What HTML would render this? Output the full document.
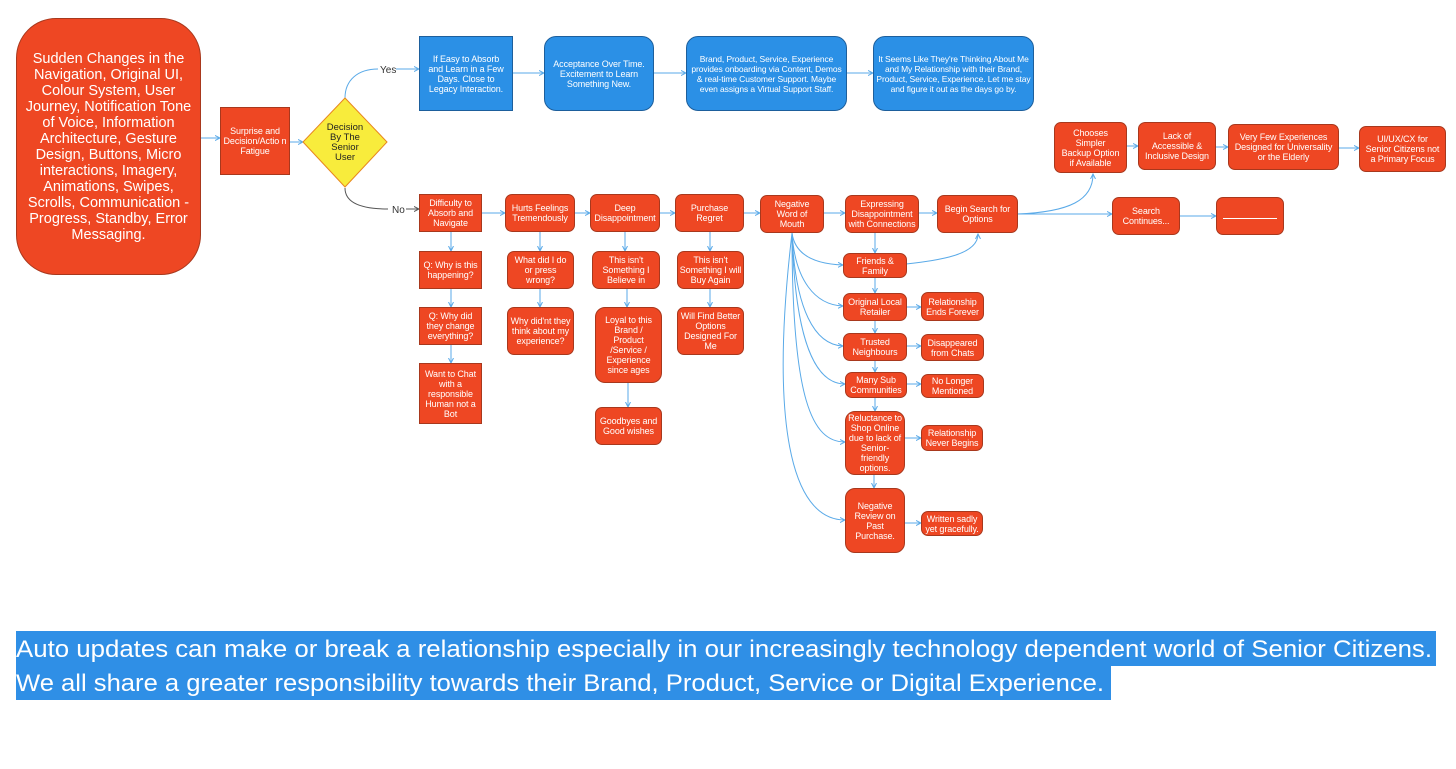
<!DOCTYPE html>
<html><head><meta charset="utf-8"><style>
body{margin:0;width:1456px;height:769px;background:#fff;position:relative;overflow:hidden;font-family:"Liberation Sans",Arial,sans-serif}
.b{position:absolute;display:flex;align-items:center;justify-content:center;text-align:center;color:#fff;background:#ee4723;border:1px solid #a8381d;box-sizing:border-box;font-size:9px;line-height:10px;letter-spacing:-0.1px;border-radius:7px;padding:0 3px}
.s{border-radius:0}
.bl{background:#2b90e6;border-color:#1d5f9c}
svg{position:absolute;left:0;top:0}
</style></head><body>
<svg width="1456" height="769">
<defs><marker id="a" markerWidth="6" markerHeight="6" refX="5" refY="3" orient="auto"><path d="M0,0.5 L5,3 L0,5.5" fill="none" stroke="#5aaae8" stroke-width="1"/></marker>
<marker id="g" markerWidth="6" markerHeight="6" refX="5" refY="3" orient="auto"><path d="M0,0.5 L5,3 L0,5.5" fill="none" stroke="#555" stroke-width="1"/></marker></defs>
<g fill="none" stroke="#5aaae8" stroke-width="1" marker-end="url(#a)">
<path d="M201,138 H220"/><path d="M289,142 H303"/>
<path d="M396,69 H419"/>
<path d="M512,73 H544"/><path d="M654,73 H686"/><path d="M846,73 H873"/>
<path d="M481,213 H505"/><path d="M574,213 H590"/><path d="M659,213 H675"/><path d="M743,213 H760"/><path d="M823,213 H845"/><path d="M918,213 H937"/>
<path d="M1017,214 H1112"/><path d="M1017,214 C1070,212 1093,200 1093,174"/>
<path d="M1179,216 H1216"/>
<path d="M1126,146 H1138"/><path d="M1215,147 H1228"/><path d="M1338,148 H1359"/>
<path d="M451,232 V251"/><path d="M451,288 V307"/><path d="M451,344 V363"/>
<path d="M540,232 V251"/><path d="M540,288 V307"/>
<path d="M625,232 V251"/><path d="M627,288 V307"/><path d="M628,382 V407"/>
<path d="M710,232 V251"/><path d="M710,288 V307"/>
<path d="M875,233 V253"/><path d="M875,277 V293"/><path d="M875,320 V333"/><path d="M875,360 V372"/><path d="M875,397 V411"/><path d="M874,474 V488"/>
<path d="M792,233 C795,255 815,264 843,265"/>
<path d="M792,233 C795,280 815,305 843,306"/>
<path d="M792,233 C795,310 815,345 843,346"/>
<path d="M792,233 C795,340 815,384 845,384"/>
<path d="M792,233 C792,400 812,442 845,442"/>
<path d="M792,233 C770,420 790,520 845,520"/>
<path d="M906,264 C940,260 978,255 978,234"/>
<path d="M906,307 H921"/><path d="M906,346 H921"/><path d="M906,384 H921"/><path d="M904,438 H921"/><path d="M904,523 H921"/>
<path d="M345,98 C345,80 358,69 378,69" marker-end="none"/>
</g>
<path d="M345,188 C345,202 360,209 388,209" fill="none" stroke="#555"/>
<path d="M406,209 H419" fill="none" stroke="#555" marker-end="url(#g)"/>
<text x="380" y="73" font-size="10" fill="#333" font-family="Liberation Sans">Yes</text>
<text x="392" y="213" font-size="10" fill="#333" font-family="Liberation Sans">No</text>
<polygon points="345,98 387,142 345,187 303,142" fill="#f8ec3c" stroke="#e8861e"/>
<text font-size="9.5" fill="#222" text-anchor="middle" font-family="Liberation Sans"><tspan x="345" y="130">Decision</tspan><tspan x="345" y="140">By The</tspan><tspan x="345" y="150">Senior</tspan><tspan x="345" y="160">User</tspan></text>
<rect x="16" y="631" width="1420" height="35" fill="#2f8fe6"/>
<rect x="16" y="666" width="1095" height="34" fill="#2f8fe6"/>
<text x="16" y="657" font-size="24" fill="#fff" textLength="1416" lengthAdjust="spacingAndGlyphs" font-family="Liberation Sans">Auto updates can make or break a relationship especially in our increasingly technology dependent world of Senior Citizens.</text>
<text x="16" y="691" font-size="24" fill="#fff" textLength="1088" lengthAdjust="spacingAndGlyphs" font-family="Liberation Sans">We all share a greater responsibility towards their Brand, Product, Service or Digital Experience.</text>
</svg>
<div class="b" style="left:16px;top:18px;width:185px;height:257px;border-radius:40px;font-size:14.5px;line-height:16px;letter-spacing:0;padding:0 6px">Sudden Changes in the Navigation, Original UI, Colour System, User Journey, Notification Tone of Voice, Information Architecture, Gesture Design, Buttons, Micro interactions, Imagery, Animations, Swipes, Scrolls, Communication - Progress, Standby, Error Messaging.</div>
<div class="b s" style="left:220px;top:107px;width:70px;height:68px;padding:0 1px">Surprise and Decision/Actio n Fatigue</div>
<div class="b s bl" style="left:419px;top:36px;width:94px;height:75px;padding:0 5px">If Easy to Absorb and Learn in a Few Days. Close to Legacy Interaction.</div>
<div class="b bl" style="left:544px;top:36px;width:110px;height:75px;border-radius:12px;padding:0 6px">Acceptance Over Time. Excitement to Learn Something New.</div>
<div class="b bl" style="left:686px;top:36px;width:161px;height:75px;border-radius:12px;font-size:8.5px;padding:0 2px">Brand, Product, Service, Experience provides onboarding via Content, Demos &amp; real-time Customer Support. Maybe even assigns a Virtual Support Staff.</div>
<div class="b bl" style="left:873px;top:36px;width:161px;height:75px;border-radius:12px;font-size:8.5px;padding:0 2px">It Seems Like They're Thinking About Me and My Relationship with their Brand, Product, Service, Experience. Let me stay and figure it out as the days go by.</div>
<div class="b" style="left:1054px;top:122px;width:73px;height:51px;padding:0 5px">Chooses Simpler Backup Option if Available</div>
<div class="b" style="left:1138px;top:122px;width:78px;height:48px;padding:0 5px">Lack of Accessible &amp; Inclusive Design</div>
<div class="b" style="left:1228px;top:124px;width:111px;height:46px;padding:0 4px">Very Few Experiences Designed for Universality or the Elderly</div>
<div class="b" style="left:1359px;top:126px;width:87px;height:46px;padding:0 4px">UI/UX/CX for Senior Citizens not a Primary Focus</div>
<div class="b" style="left:1112px;top:197px;width:68px;height:38px">Search Continues...</div>
<div class="b" style="left:1216px;top:197px;width:68px;height:38px"><div style="width:54px;border-top:1px solid #fff;margin-top:4px"></div></div>
<div class="b s" style="left:419px;top:194px;width:63px;height:38px">Difficulty to Absorb and Navigate</div>
<div class="b" style="left:505px;top:194px;width:70px;height:38px;padding:0 1px">Hurts Feelings Tremendously</div>
<div class="b" style="left:590px;top:194px;width:70px;height:38px;padding:0">Deep Disappointment</div>
<div class="b" style="left:675px;top:194px;width:69px;height:38px;padding:0 10px">Purchase Regret</div>
<div class="b" style="left:760px;top:195px;width:64px;height:38px">Negative Word of Mouth</div>
<div class="b" style="left:845px;top:195px;width:74px;height:38px;padding:0 1px">Expressing Disappointment with Connections</div>
<div class="b" style="left:937px;top:195px;width:81px;height:38px">Begin Search for Options</div>
<div class="b s" style="left:419px;top:251px;width:63px;height:38px">Q: Why is this happening?</div>
<div class="b s" style="left:419px;top:307px;width:63px;height:38px">Q: Why did they change everything?</div>
<div class="b s" style="left:419px;top:363px;width:63px;height:61px">Want to Chat with a responsible Human not a Bot</div>
<div class="b" style="left:507px;top:251px;width:67px;height:38px;padding:0 5px">What did I do or press wrong?</div>
<div class="b" style="left:507px;top:307px;width:67px;height:48px;padding:0 1px">Why did'nt they think about my experience?</div>
<div class="b" style="left:592px;top:251px;width:68px;height:38px">This isn't Something I Believe in</div>
<div class="b" style="left:595px;top:307px;width:67px;height:76px;border-radius:10px;padding:0 8px">Loyal to this Brand / Product /Service / Experience since ages</div>
<div class="b" style="left:595px;top:407px;width:67px;height:38px">Goodbyes and Good wishes</div>
<div class="b" style="left:677px;top:251px;width:67px;height:38px;padding:0 1px">This isn't Something I will Buy Again</div>
<div class="b" style="left:677px;top:307px;width:67px;height:48px;padding:0 1px">Will Find Better Options Designed For Me</div>
<div class="b" style="left:843px;top:253px;width:64px;height:25px;padding:0 10px">Friends &amp; Family</div>
<div class="b" style="left:843px;top:293px;width:64px;height:28px">Original Local Retailer</div>
<div class="b" style="left:843px;top:333px;width:64px;height:28px">Trusted Neighbours</div>
<div class="b" style="left:845px;top:372px;width:62px;height:26px;padding:0 6px">Many Sub Communities</div>
<div class="b" style="left:845px;top:411px;width:60px;height:64px;border-radius:10px;padding:0 1px">Reluctance to Shop Online due to lack of Senior-friendly options.</div>
<div class="b" style="left:845px;top:488px;width:60px;height:65px;border-radius:10px;padding:0 5px">Negative Review on Past Purchase.</div>
<div class="b" style="left:921px;top:292px;width:63px;height:29px">Relationship Ends Forever</div>
<div class="b" style="left:921px;top:334px;width:63px;height:27px">Disappeared from Chats</div>
<div class="b" style="left:921px;top:374px;width:63px;height:24px;padding:0 8px">No Longer Mentioned</div>
<div class="b" style="left:921px;top:425px;width:62px;height:26px">Relationship Never Begins</div>
<div class="b" style="left:921px;top:511px;width:62px;height:25px">Written sadly yet gracefully.</div>
</body></html>
